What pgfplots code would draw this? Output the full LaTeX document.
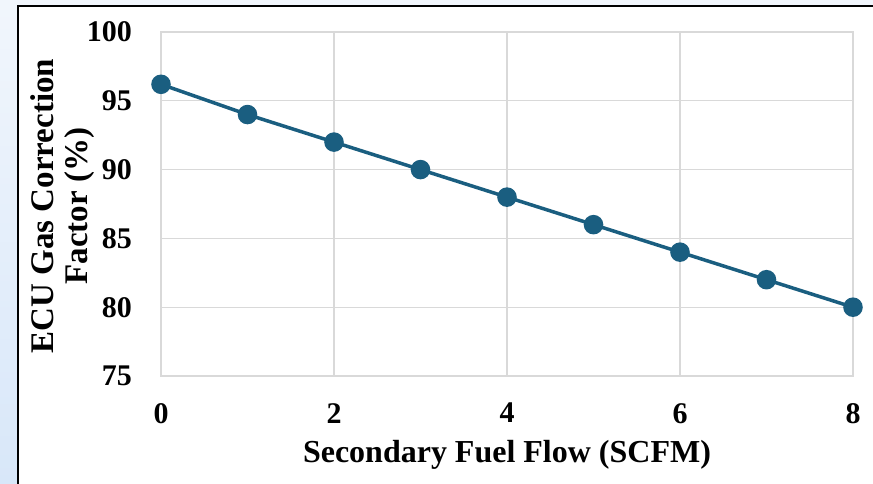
\documentclass[border=0pt]{standalone}
\usepackage{pgfplots}
\pgfplotsset{compat=1.18}
\usepackage{fontspec}
\setmainfont{Liberation Serif}
\definecolor{serieblue}{RGB}{26,94,128}
\definecolor{gridgray}{RGB}{217,217,217}
\definecolor{bgtop}{RGB}{241,246,252}
\definecolor{bgbottom}{RGB}{216,231,249}
\begin{document}
\begin{tikzpicture}
\useasboundingbox (0pt,0pt) rectangle (873pt,-484pt);
% page background and chart frame
\begin{scope}
  \clip (0pt,0pt) rectangle (873pt,-484pt);
  \shade[top color=bgtop, bottom color=bgbottom] (0pt,0pt) rectangle (873pt,-484pt);
  \fill[white] (18pt,-6pt) rectangle (880pt,-490pt);
  \draw[black, line width=2.2pt] (18pt,-490pt) -- (18pt,-6pt) -- (880pt,-6pt);
\end{scope}
\begin{axis}[
  at={(161pt,-376pt)}, anchor=origin,
  scale only axis, width=692pt, height=344pt,
  xmin=0, xmax=8, ymin=75, ymax=100,
  xtick={0,2,...,8}, ytick={75,80,...,100},
  grid=major,
  major grid style={gridgray, line width=1.3pt},
  axis line style={gridgray, line width=1.3pt},
  tick style={draw=none},
  /pgf/number format/assume math mode=true,
  ticklabel style={font=\fontsize{30}{36}\selectfont\bfseries},
  yticklabel style={anchor=east, inner sep=0pt, xshift=-29pt},
  xticklabel style={anchor=north, inner sep=0pt, yshift=-27pt},
  xlabel={Secondary Fuel Flow (SCFM)},
  xlabel style={at={(axis description cs:0.5,0)}, anchor=base, inner sep=0pt,
    yshift=-86pt, font=\fontsize{32}{38}\selectfont\bfseries},
  clip=false,
]
\addplot[serieblue, line width=3.5pt, mark=*, mark size=8pt,
  mark options={fill=serieblue, draw=none}]
  coordinates {(0,96.2) (1,94) (2,92) (3,90) (4,88) (5,86) (6,84) (7,82) (8,80)};
\end{axis}
% vertical axis title, two lines
\node[rotate=90, anchor=base, inner sep=0pt, font=\fontsize{33}{38}\selectfont\bfseries]
  at (53pt,-206pt) {ECU Gas Correction};
\node[rotate=90, anchor=base, inner sep=0pt, font=\fontsize{33}{38}\selectfont\bfseries]
  at (87pt,-206pt) {Factor (\%)};
\end{tikzpicture}
\end{document}
